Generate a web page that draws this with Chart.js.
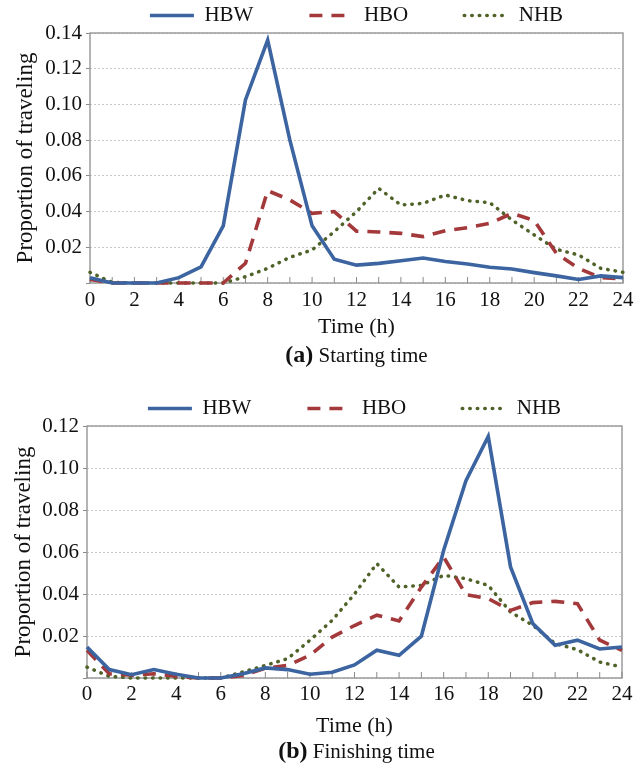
<!DOCTYPE html>
<html>
<head>
<meta charset="utf-8">
<script src="https://cdn.jsdelivr.net/npm/chart.js@4.4.1/dist/chart.umd.min.js"></script>
<style>
  html, body { margin: 0; padding: 0; background: #ffffff; }
  body { width: 644px; height: 772px; position: relative; overflow: hidden; }
  canvas { position: absolute; left: 0; }
  #c1 { top: -54px; }
  #c2 { top: 339px; }
  .cap { position: absolute; left: 90px; width: 533px; height: 28px; line-height: 28px; text-align: center;
         font-family: 'Liberation Serif', 'Times New Roman', serif; font-size: 21px; color: #111; z-index: 5; }
  .cap b { font-size: 24px; }
</style>
</head>
<body>
<canvas id="c1" width="644" height="394"></canvas>
<canvas id="c2" width="644" height="400"></canvas>
<div class="cap" style="top:340px"><b>(a)</b> Starting time</div>
<div class="cap" style="top:736px"><b>(b)</b> Finishing time</div>
<script>
// ---- data ----
const hours = ['0','1','2','3','4','5','6','7','8','9','10','11','12','13','14','15','16','17','18','19','20','21','22','23','24'];
const seriesNames = ['HBW', 'HBO', 'NHB'];

// (a) Starting time
const hbwStart = [0.003, 0, 0, 0, 0.003, 0.009, 0.032, 0.1025, 0.136, 0.080, 0.032, 0.0133, 0.010, 0.011, 0.0125, 0.014, 0.012, 0.0106, 0.0088, 0.0078, 0.0058, 0.004, 0.002, 0.004, 0.003];
const hboStart = [0.002, 0, 0, 0, 0, 0, 0, 0.011, 0.0517, 0.0465, 0.039, 0.040, 0.029, 0.0286, 0.0278, 0.026, 0.0293, 0.031, 0.0334, 0.039, 0.035, 0.0166, 0.0082, 0.003, 0.0024];
const nhbStart = [0.006, 0.0003, 0, 0, 0, 0, 0, 0.0035, 0.0082, 0.0144, 0.0185, 0.0288, 0.040, 0.053, 0.0437, 0.0446, 0.0493, 0.0461, 0.045, 0.0353, 0.0269, 0.0189, 0.0157, 0.0082, 0.006];

// (b) Finishing time
const hbwEnd = [0.0148, 0.004, 0.0016, 0.004, 0.0018, 0, 0, 0.002, 0.0048, 0.004, 0.0018, 0.0027, 0.0062, 0.0132, 0.0108, 0.0199, 0.0608, 0.094, 0.115, 0.0529, 0.0259, 0.0156, 0.018, 0.0138, 0.0148];
const hboEnd = [0.0132, 0.002, 0.0013, 0.002, 0.0008, 0, 0, 0.0012, 0.0046, 0.006, 0.0108, 0.0195, 0.025, 0.0299, 0.0272, 0.0433, 0.0576, 0.0397, 0.0378, 0.0322, 0.0359, 0.0365, 0.0354, 0.018, 0.0132];
const nhbEnd = [0.0052, 0.0008, 0, 0, 0, 0, 0, 0.0029, 0.006, 0.0092, 0.018, 0.0275, 0.040, 0.0545, 0.0433, 0.0441, 0.0489, 0.0473, 0.0441, 0.0314, 0.0251, 0.0164, 0.0135, 0.0076, 0.0052];

const xTitle = 'Time (h)';
const yTitle = 'Proportion of traveling';

// ---- styling ----
const FONT = "'Liberation Serif', 'Times New Roman', serif";
const TXT = '#111111';
const styles = [
  { borderColor: '#3b64a0', borderWidth: 3.6, borderDash: [], borderCapStyle: 'butt' },
  { borderColor: '#a3393b', borderWidth: 3.6, borderDash: [13, 9], borderCapStyle: 'butt' },
  { borderColor: '#4f6228', borderWidth: 3.5, borderDash: [0.5, 7], borderCapStyle: 'round' }
];

const framePlugin = {
  id: 'frame',
  afterLayout(chart) {
    if (chart.legend) { chart.legend.top += 3; chart.legend.bottom += 3; }
  },
  beforeDatasetsDraw(chart) {
    const { ctx, chartArea: a, scales } = chart;
    const x = scales.x;
    ctx.save();
    ctx.strokeStyle = '#9c9c9c';
    ctx.lineWidth = 1.5;
    ctx.setLineDash([]);
    ctx.strokeRect(a.left, a.top, a.right - a.left, a.bottom - a.top);
    ctx.lineWidth = 1;
    ctx.strokeStyle = '#8a8a8a';
    x.ticks.forEach((t, i) => {
      const px = x.getPixelForTick(i);
      ctx.beginPath();
      ctx.moveTo(px, a.bottom);
      ctx.lineTo(px, a.bottom - 6);
      ctx.stroke();
    });
    ctx.restore();
  }
};

function legendLabels(chart) {
  return chart.data.datasets.map((ds, i) => ({
    text: ds.label,
    fillStyle: ds.borderColor,
    strokeStyle: ds.borderColor,
    lineWidth: ds.borderWidth,
    lineDash: ds.borderDash,
    lineDashOffset: 0,
    lineCap: ds.borderCapStyle,
    pointStyle: 'line',
    hidden: false,
    datasetIndex: i,
    fontColor: TXT
  }));
}

function buildChart(id, values, yMax, o) {
  const datasets = values.map((v, i) => Object.assign({
    label: seriesNames[i],
    data: v,
    backgroundColor: styles[i].borderColor,
    pointRadius: 0,
    pointHoverRadius: 0,
    tension: 0,
    fill: false,
    clip: 3
  }, styles[i]));
  return new Chart(document.getElementById(id), {
    type: 'line',
    data: { labels: hours, datasets },
    options: {
      responsive: false,
      animation: false,
      devicePixelRatio: 1,
      layout: { padding: { left: 0, right: o.padRight, top: 0, bottom: 0 } },
      plugins: {
        legend: {
          position: 'top',
          fullSize: false,
          align: 'center',
          labels: {
            usePointStyle: true,
            pointStyle: 'line',
            pointStyleWidth: 44,
            padding: 56,
            color: TXT,
            font: { family: FONT, size: 21 },
            generateLabels: legendLabels
          }
        },
        tooltip: { enabled: false }
      },
      scales: {
        x: {
          type: 'category',
          grid: { display: false },
          border: { display: false },
          ticks: {
            autoSkip: false,
            maxRotation: 0,
            padding: o.xTickPad,
            color: TXT,
            font: { family: FONT, size: 21 },
            callback: (v, i) => (i % 2 === 0 ? hours[i] : '')
          },
          title: { display: true, text: xTitle, color: TXT, font: { family: FONT, size: 22 }, padding: { top: 3, bottom: 0 } },
          afterFit: s => { s.height = o.xHeight; }
        },
        y: {
          min: 0,
          max: yMax,
          ticks: {
            stepSize: 0.02,
            padding: 4,
            color: TXT,
            font: { family: FONT, size: 21 },
            callback: v => (v < 1e-9 ? '' : v.toFixed(2))
          },
          grid: { color: '#c9c9c9', lineWidth: 1, tickLength: 4, tickColor: '#8a8a8a', tickBorderDash: [], tickWidth: 1 },
          border: { display: false, dash: [2, 2] },
          title: { display: true, text: yTitle, color: TXT, font: { family: FONT, size: 23 }, padding: { top: o.yTitlePad, bottom: 0 } },
          afterFit: s => { s.width = o.yWidth; }
        }
      }
    },
    plugins: [framePlugin]
  });
}

buildChart('c1', [hbwStart, hboStart, nhbStart], 0.14, { padRight: 21, yWidth: 90, yTitlePad: 12, xTickPad: -3, xHeight: 57 });
buildChart('c2', [hbwEnd, hboEnd, nhbEnd], 0.12, { padRight: 22, yWidth: 87, yTitlePad: 10, xTickPad: -4, xHeight: 61 });
</script>
</body>
</html>
